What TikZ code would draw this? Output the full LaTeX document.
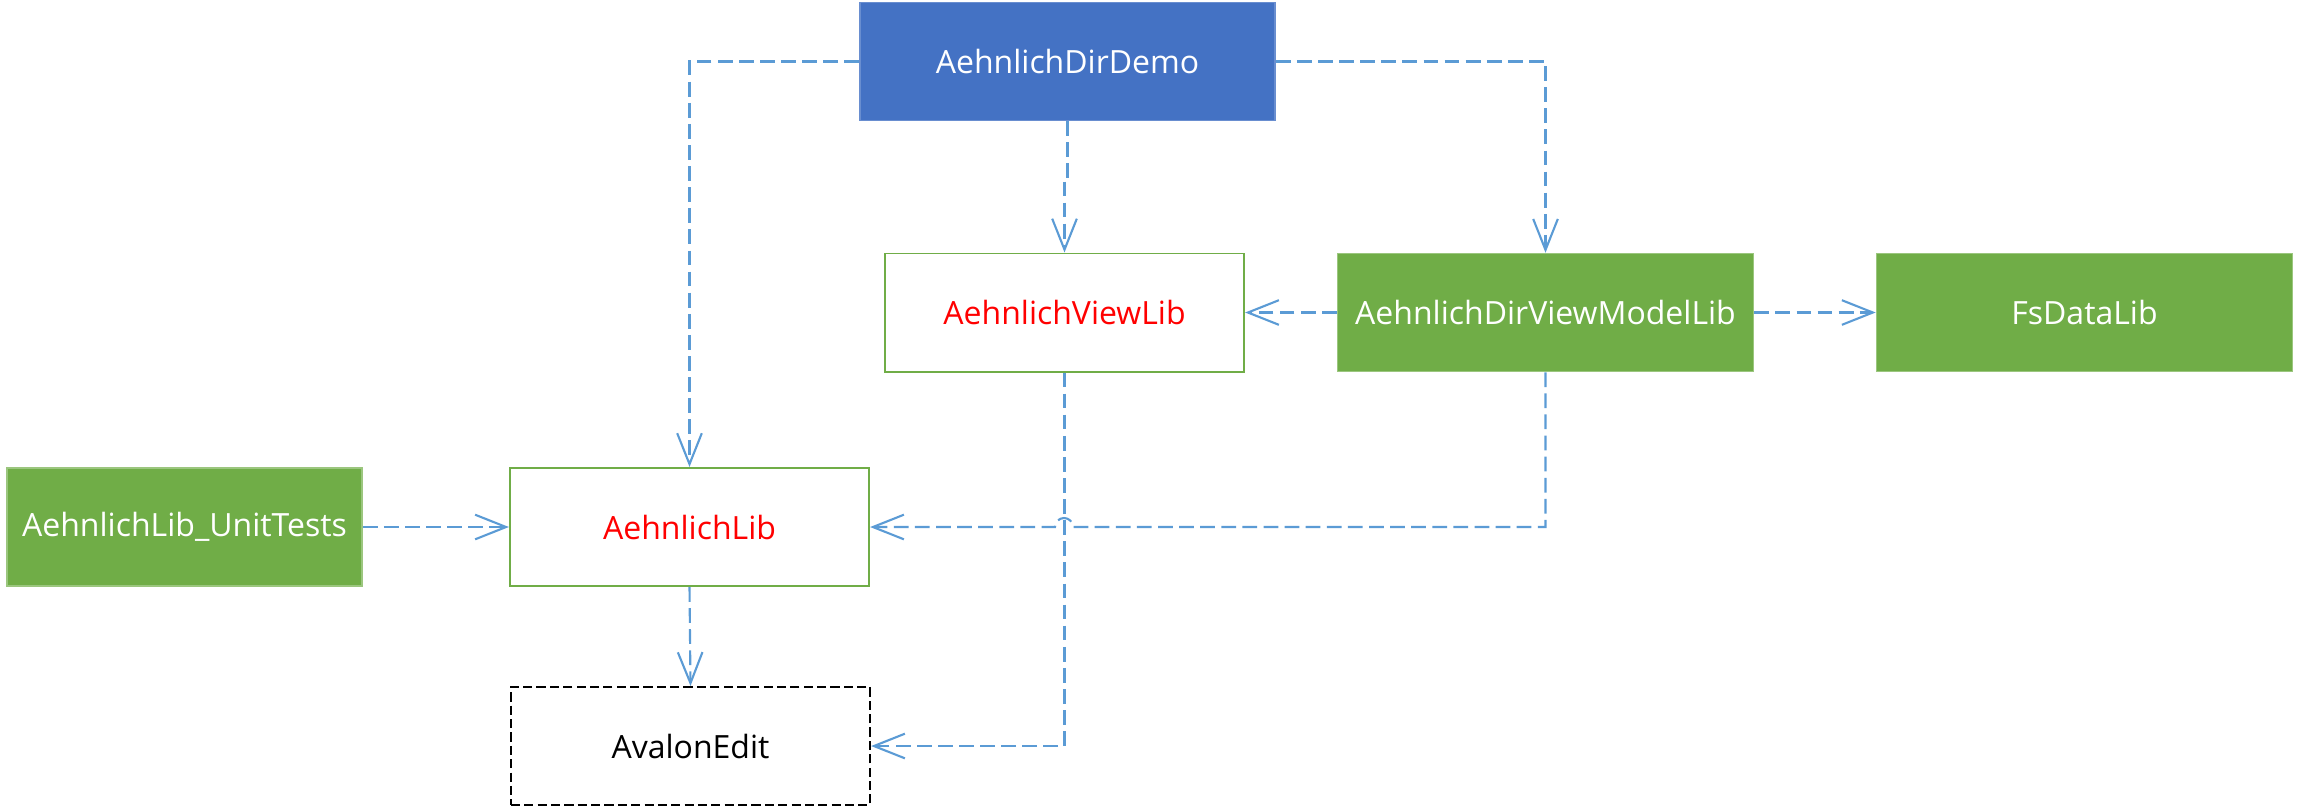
\documentclass[tikz,border=0pt]{standalone}
\usepackage{fontspec}
\setmainfont{Open Sans}
\usepackage{tikz}
\usetikzlibrary{arrows.meta}
\usepackage{xcolor}
\definecolor{bleu}{HTML}{4472C4}
\definecolor{vert}{HTML}{70AD47}
\definecolor{lienbleu}{HTML}{5B9BD5}

\begin{document}
\begin{tikzpicture}[x=0.01cm, y=-0.01cm,
    boite/.style={minimum height=1.18cm, inner sep=0pt, font=\fontsize{9.1}{11}\selectfont},
    pleinbleu/.style={boite, fill=bleu, draw=bleu!80!white, text=white},
    pleinvert/.style={boite, fill=vert, draw=vert!70!white, text=white},
    cadrevert/.style={boite, draw=vert, line width=0.55pt, text=red},
    cadrenoir/.style={boite, draw=black, line width=0.55pt, dash pattern=on 2.6pt off 1.2pt},
    lien/.style={draw=lienbleu, line width=0.6pt, dash pattern=on 4.2pt off 1.8pt,
                 -{Straight Barb[length=8.8pt, width=7pt]}}]

    \useasboundingbox (0,0) rectangle (2297,808);

    % Boîtes
    \node[pleinbleu, minimum width=4.15cm] (demo) at (1067.5,61.5) {AehnlichDirDemo};
    \node[cadrevert, minimum width=3.59cm] (viewlib) at (1064.5,312.5) {AehnlichViewLib};
    \node[pleinvert, minimum width=4.16cm] (vmlib) at (1545.5,312.5) {AehnlichDirViewModelLib};
    \node[pleinvert, minimum width=4.16cm] (fsdata) at (2084.5,312.5) {FsDataLib};
    \node[pleinvert, minimum width=3.55cm] (tests) at (184.5,527) {AehnlichLib\_UnitTests};
    \node[cadrevert, minimum width=3.59cm] (lib) at (689.5,527) {AehnlichLib};
    \node[cadrenoir, minimum width=3.59cm] (avalon) at (690.5,746) {AvalonEdit};

    % Dépendances
    \draw[lien] (demo.west) -| (lib.north);
    \draw[lien] (demo.south) -- ++(0,60) -| (viewlib.north);
    \draw[lien] (demo.east) -| (vmlib.north);
    \draw[lien] (vmlib.west) -- (viewlib.east);
    \draw[lien] (vmlib.east) -- (fsdata.west);
    \draw[lien] (vmlib.south) |- (1073,527) arc[start angle=0, end angle=-180, radius=9] -- (lib.east);
    \draw[lien] (viewlib.south) |- (avalon.east);
    \draw[lien] (lib.south) -- (avalon.north);
    \draw[lien] (tests.east) -- (lib.west);

\end{tikzpicture}
\end{document}
